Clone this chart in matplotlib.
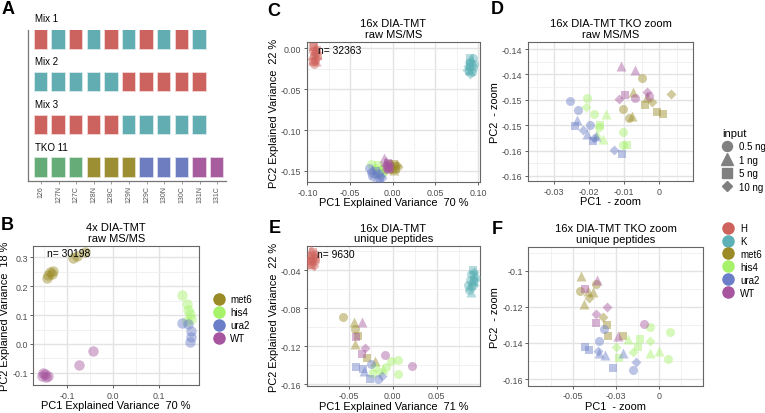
import matplotlib
matplotlib.use('Agg')
import matplotlib.pyplot as plt
from matplotlib.colors import to_rgba
from matplotlib.lines import Line2D
import numpy as np

plt.rcParams['font.family'] = ['Liberation Sans', 'DejaVu Sans']

# groups / colours
group_names = ['H', 'K', 'met6', 'his4', 'ura2', 'WT']
group_colors = ['#CF625C', '#5DB1B6', '#9B8B26', '#A6F26A', '#6B7EC8', '#A6559E']
# input amount -> marker code used in the *_mk strings below
input_names = ['0.5 ng', '1 ng', '5 ng', '10 ng']
input_markers = ['o', '^', 's', 'D']
input_sizes = [42, 52, 36, 26]

# ---- panel A: TMT channel layout
channels = ['126', '127N', '127C', '128N', '128C', '129N', '129C', '130N', '130C', '131N', '131C']
mix_names = ['Mix 1', 'Mix 2', 'Mix 3', 'TKO 11']
mix1 = ['H', 'K', 'H', 'K', 'H', 'K', 'H', 'K', 'H', 'K']
mix2 = ['K', 'K', 'K', 'K', 'K', 'H', 'H', 'H', 'H', 'H']
mix3 = ['H', 'H', 'H', 'H', 'H', 'K', 'K', 'K', 'K', 'K']
tko11 = ['his4', 'his4', 'his4', 'met6', 'met6', 'met6', 'ura2', 'ura2', 'ura2', 'WT', 'WT']
layout_colors = {'H': '#CC635E', 'K': '#62ADB2', 'his4': '#66AC78', 'met6': '#9C8F33',
                 'ura2': '#6D7DC0', 'WT': '#A65C9D'}

# ---- panel B: 4x DIA-TMT raw MS/MS
b_x = [-0.144, -0.141, -0.137, -0.131, -0.133, -0.088, -0.079, -0.061,
       0.149, 0.160, 0.164, 0.167, 0.160, 0.169,
       0.151, 0.169, 0.169, 0.167, 0.164,
       -0.152, -0.146, -0.155, -0.141, -0.148, -0.075, -0.043]
b_y = [0.228, 0.240, 0.248, 0.254, 0.242, 0.298, 0.303, 0.317,
       0.170, 0.138, 0.117, 0.103, 0.078, 0.086,
       0.074, 0.045, 0.024, 0.007, 0.068,
       -0.099, -0.115, -0.111, -0.111, -0.105, -0.074, -0.025]
b_grp = ['met6'] * 8 + ['his4'] * 6 + ['ura2'] * 5 + ['WT'] * 7

# ---- panel C: 16x DIA-TMT raw MS/MS
c_x = [-0.094, -0.092, -0.090, -0.093, -0.091, -0.089, -0.095, -0.092, -0.090, -0.088, -0.094, -0.091, -0.089, -0.093, -0.090, -0.092,
       0.090, 0.092, 0.094, 0.089, 0.091, 0.093, 0.095, 0.088, 0.090, 0.092, 0.094, 0.087, 0.089, 0.091, 0.093, 0.090,
       -0.028, -0.024, -0.020, -0.016, -0.026, -0.022, -0.018, -0.014, -0.024, -0.019, -0.015, -0.012,
       -0.025, -0.021, -0.017, -0.013, -0.010, -0.022, -0.018, -0.014, -0.011, -0.020, -0.016, -0.012,
       -0.010, -0.008, -0.006, -0.004, -0.009, -0.007, -0.005, -0.003, -0.008, -0.006,
       -0.004, -0.001, 0.002, 0.005, -0.003, 0.000, 0.003, 0.006, -0.002, 0.001, 0.004]
c_y = [0.002, 0.001, 0.002, -0.003, -0.004, -0.002, -0.008, -0.009, -0.007, -0.010, -0.013, -0.014, -0.012, -0.017, -0.016, -0.019,
       -0.012, -0.013, -0.012, -0.017, -0.018, -0.016, -0.019, -0.022, -0.023, -0.021, -0.024, -0.026, -0.028, -0.027, -0.029, -0.031,
       -0.146, -0.148, -0.150, -0.152, -0.151, -0.153, -0.154, -0.156, -0.156, -0.157, -0.158, -0.159,
       -0.142, -0.144, -0.143, -0.145, -0.147, -0.148, -0.149, -0.150, -0.151, -0.152, -0.153, -0.154,
       -0.134, -0.138, -0.140, -0.142, -0.143, -0.144, -0.145, -0.146, -0.148, -0.147,
       -0.141, -0.142, -0.141, -0.143, -0.145, -0.146, -0.144, -0.145, -0.148, -0.149, -0.147]
c_grp = ['H'] * 16 + ['K'] * 16 + ['ura2'] * 12 + ['his4'] * 12 + ['WT'] * 10 + ['met6'] * 11
c_mk = 'ss^oDs^oDs^oDs^o' + 's^oDs^oDs^oDs^oD' + 'o^sDo^sDo^sD' + 'o^sDo^sDo^sD' + '^^soDo^sDo' + 'o^sDo^sDo^s'

# ---- panel D: TKO zoom raw MS/MS
d_x = [-0.0109, -0.0070, -0.0098, -0.0070, -0.0114, -0.0036, -0.0031,
       -0.0049, -0.0076, -0.0105, -0.0079, -0.0088, -0.0041, -0.0036, -0.0020, 0.0033, -0.0007, 0.0011,
       -0.0255, -0.0231, -0.0236, -0.0241, -0.0219, -0.0198, -0.0206, -0.0190, -0.0180, -0.0129, -0.0107, -0.0188,
       -0.0206, -0.0209, -0.0187, -0.0153, -0.0170, -0.0173, -0.0177, -0.0162, -0.0103, -0.0103, -0.0093]
d_y = [-0.1383, -0.1392, -0.1440, -0.1447, -0.1449, -0.1434, -0.1442,
       -0.1407, -0.1434, -0.1469, -0.1482, -0.1486, -0.1461, -0.1445, -0.1455, -0.1438, -0.1474, -0.1477,
       -0.1453, -0.1471, -0.1490, -0.1502, -0.1510, -0.1500, -0.1518, -0.1531, -0.1522, -0.1549, -0.1556, -0.1525,
       -0.1447, -0.1465, -0.1477, -0.1478, -0.1500, -0.1503, -0.1518, -0.1528, -0.1513, -0.1539, -0.1539]
d_grp = ['WT'] * 7 + ['met6'] * 11 + ['ura2'] * 12 + ['his4'] * 11
d_mk = '^^soDDo' + 'o^o^os^DDss' + 'oo^sDo^s^DsD' + 'oDo^so^^oos'

# ---- panel E: 16x DIA-TMT unique peptides
e_x = [-0.093, -0.091, -0.089, -0.094, -0.092, -0.090, -0.088, -0.095, -0.093, -0.091, -0.089, -0.094, -0.092, -0.090, -0.092,
       0.091, 0.093, 0.089, 0.091, 0.093, 0.095, 0.088, 0.090, 0.092, 0.094, 0.086, 0.088, 0.090, 0.092, 0.087, 0.089,
       -0.0570, -0.0436, -0.0425, -0.0399, -0.0425, -0.0296, -0.0197,
       -0.0349, -0.0417, -0.0311, -0.0349, -0.0083, 0.0216,
       -0.0417, -0.0342, -0.0265, -0.0171, -0.0121, -0.0322, -0.0246,
       0.0065, -0.0208, -0.0076, 0.0057, -0.0228, -0.0018, -0.0151, -0.0114]
e_y = [-0.018, -0.021, -0.023, -0.024, -0.025, -0.026, -0.027, -0.029, -0.030, -0.031, -0.030, -0.033, -0.034, -0.035, -0.028,
       -0.040, -0.042, -0.044, -0.046, -0.045, -0.047, -0.050, -0.051, -0.052, -0.050, -0.055, -0.056, -0.057, -0.055, -0.061, -0.063,
       -0.0895, -0.0947, -0.1018, -0.1088, -0.1176, -0.1323, -0.1352,
       -0.0947, -0.1105, -0.1218, -0.1281, -0.1288, -0.1407,
       -0.1421, -0.1439, -0.1544, -0.1544, -0.1516, -0.1457, -0.1386,
       -0.1344, -0.1421, -0.1421, -0.1492, -0.1492, -0.1352, -0.1474, -0.1439]
e_grp = ['H'] * 15 + ['K'] * 16 + ['met6'] * 7 + ['WT'] * 6 + ['ura2'] * 7 + ['his4'] * 8
e_mk = '^so^sDo^sDo^sDo' + 'sDo^sDo^sDo^sDo^' + 'o^os^s^' + '^sDsoo' + 'sssoD^o' + 'ooooso' + 'D^'

# ---- panel F: TKO zoom unique peptides
f_x = [-0.0454, -0.0458, -0.0410, -0.0381, -0.0404, -0.0435, -0.0365, -0.0327, -0.0304, -0.0294, -0.0208,
       -0.0362, -0.0429, -0.0304, -0.0365, -0.0365, -0.0087, -0.0237,
       -0.0317, -0.0346, -0.0429, -0.0404, -0.0356, -0.0346, -0.0313, -0.0208, -0.0265, -0.0154, -0.0135,
       -0.0054, 0.0062, -0.0112, -0.0054, -0.0179, -0.0250, -0.0121, -0.0150, -0.0054, -0.0002, -0.0233, 0.0052]
f_y = [-0.1028, -0.1114, -0.1114, -0.1120, -0.1153, -0.1185, -0.1074, -0.1259, -0.1301, -0.1360, -0.1364,
       -0.1052, -0.1102, -0.1203, -0.1240, -0.1290, -0.1295, -0.1364,
       -0.1323, -0.1392, -0.1425, -0.1440, -0.1443, -0.1456, -0.1465, -0.1456, -0.1539, -0.1548, -0.1508,
       -0.1314, -0.1342, -0.1379, -0.1392, -0.1379, -0.1425, -0.1421, -0.1449, -0.1458, -0.1443, -0.1484, -0.1489]
f_grp = ['met6'] * 11 + ['WT'] * 7 + ['ura2'] * 11 + ['his4'] * 12
f_mk = '^o^^D^oDsss' + '^sDDso^' + 'oossD^^^soD' + 'oosD^DsD^^so'


W, H = 765, 414
fig = plt.figure(figsize=(W / 100, H / 100), dpi=100)


def add_ax(x0, y0, x1, y1):
    # pixel box (top-left origin) -> figure fraction
    return fig.add_axes([x0 / W, 1 - y1 / H, (x1 - x0) / W, (y1 - y0) / H])


def style_pca(ax, xt, xtl, yt, ytl, xlim, ylim):
    ax.set_xticks(xt)
    ax.set_xticklabels(xtl)
    ax.set_yticks(yt)
    ax.set_yticklabels(ytl)
    dx = xt[1] - xt[0]
    dy = yt[1] - yt[0]
    ax.set_xticks(np.arange(xt[0] - dx / 2, xt[-1] + dx, dx), minor=True)
    ax.set_yticks(np.arange(yt[0] - dy / 2, yt[-1] + dy, dy), minor=True)
    # limits last: set_ticks would widen the view otherwise
    ax.set_xlim(xlim)
    ax.set_ylim(ylim)
    ax.grid(which='major', color='#E3E3E3', lw=1.0)
    ax.grid(which='minor', color='#EFEFEF', lw=0.6)
    ax.set_axisbelow(True)
    ax.tick_params(which='major', length=2.5, width=0.6, color='#444444',
                   labelsize=6.4, labelcolor='#4D4D4D', pad=1.5)
    ax.tick_params(which='minor', length=0)
    for s in ax.spines.values():
        s.set_color('#666666')
        s.set_linewidth(0.8)


def scatter_groups(ax, xs, ys, grps, mks, size_scale=1.0):
    xs = np.asarray(xs)
    ys = np.asarray(ys)
    grps = np.asarray(grps)
    mks = np.array(list(mks))
    for g, col in zip(group_names, group_colors):
        for m, s in zip(input_markers, input_sizes):
            sel = (grps == g) & (mks == m)
            if sel.any():
                ax.scatter(xs[sel], ys[sel], s=s * size_scale, marker=m, color=col,
                           alpha=0.45, linewidths=0, zorder=3)


def panel_letter(x, y, s):
    fig.text(x / W, 1 - y / H, s, fontsize=13, fontweight='bold', ha='center', va='center')


lab_fs = 7.9
title_fs = 8.0

# ---------------- A
axA = add_ax(28, 31, 226, 182)
rows = [mix1, mix2, mix3, tko11]
for i, row in enumerate(rows):
    ypos = 3 - i
    cols = [layout_colors[k] for k in row]
    axA.bar(np.arange(len(row)), 0.43, bottom=ypos - 0.215, width=0.70, color=cols,
            edgecolor=[to_rgba(c, 0.35) for c in cols], linewidth=1.2)
    axA.text(-0.35, ypos + 0.49, mix_names[i], fontsize=7, ha='left', va='center')
axA.set_xticks(np.arange(len(channels)))
axA.set_xticklabels(channels, rotation=90, fontsize=5.0, color='#555555')
axA.set_yticks([])
axA.set_xlim(-0.73, 10.5)
axA.set_ylim(-0.315, 3.22)
axA.tick_params(axis='x', length=2, width=0.5, color='#777777', pad=1)
for s in ['top', 'right']:
    axA.spines[s].set_visible(False)
for s in ['left', 'bottom']:
    axA.spines[s].set_color('#777777')
    axA.spines[s].set_linewidth(0.9)
panel_letter(8, 10, 'A')

# ---------------- B
axB = add_ax(33.3, 247, 199, 386)
scatter_groups(axB, b_x, b_y, b_grp, 'o' * len(b_x), size_scale=1.35)
style_pca(axB, [-0.1, 0.0, 0.1], ['-0.1', '0.0', '0.1'],
          [-0.1, 0.0, 0.1, 0.2, 0.3], ['-0.1', '0.0', '0.1', '0.2', '0.3'],
          (-0.1733, 0.187), (-0.142, 0.339))
axB.set_title('4x DIA-TMT\nraw MS/MS', fontsize=title_fs, pad=3.5, linespacing=1.1)
axB.set_xlabel('PC1 Explained Variance  70 %', fontsize=lab_fs, labelpad=0.5)
axB.set_ylabel('PC2 Explained Variance  18 %', fontsize=lab_fs, labelpad=1.5)
axB.text(0.081, 0.947, 'n= 30198', transform=axB.transAxes, fontsize=7.4, ha='left', va='center')
panel_letter(7, 226, 'B')

# ---------------- C
axC = add_ax(307, 43, 480, 183)
scatter_groups(axC, c_x, c_y, c_grp, c_mk)
style_pca(axC, [-0.10, -0.05, 0.0, 0.05, 0.10], ['-0.10', '-0.05', '0.00', '0.05', '0.10'],
          [-0.15, -0.10, -0.05, 0.0], ['-0.15', '-0.10', '-0.05', '0.00'],
          (-0.1005, 0.1023), (-0.1635, 0.0077))
axC.set_title('16x DIA-TMT\nraw MS/MS', fontsize=title_fs, pad=3.5, linespacing=1.1)
axC.set_xlabel('PC1 Explained Variance  70 %', fontsize=lab_fs, labelpad=0.5)
axC.set_ylabel('PC2 Explained Variance  22 %', fontsize=lab_fs, labelpad=1.5)
axC.text(0.065, 0.945, 'n= 32363', transform=axC.transAxes, fontsize=7.4, ha='left', va='center')
panel_letter(274, 11, 'C')

# ---------------- D
axD = add_ax(528, 43, 693, 182)
scatter_groups(axD, d_x, d_y, d_grp, d_mk)
style_pca(axD, [-0.03, -0.02, -0.01, 0.0, 0.01], ['-0.03', '-0.02', '-0.01', '0', '0.01'],
          [-0.160, -0.155, -0.150, -0.145, -0.140, -0.135],
          ['-0.16', '-0.16', '-0.15', '-0.15', '-0.14', '-0.14'],
          (-0.0375, 0.0096), (-0.161, -0.1336))
axD.set_title('16x DIA-TMT TKO zoom\nraw MS/MS', fontsize=title_fs, pad=3.5, linespacing=1.1)
axD.set_xlabel('PC1  - zoom', fontsize=lab_fs, labelpad=0.5)
axD.set_ylabel('PC2  - zoom', fontsize=lab_fs, labelpad=1.5)
panel_letter(497, 10, 'D')

# ---------------- E
axE = add_ax(306.7, 247.3, 480, 386.7)
scatter_groups(axE, e_x, e_y, e_grp, e_mk)
style_pca(axE, [-0.10, -0.05, 0.0, 0.05], ['-0.10', '-0.05', '0.00', '0.05'],
          [-0.16, -0.12, -0.08, -0.04], ['-0.16', '-0.12', '-0.08', '-0.04'],
          (-0.098, 0.0993), (-0.1615, -0.0147))
axE.set_title('16x DIA-TMT\nunique peptides', fontsize=title_fs, pad=3.5, linespacing=1.1)
axE.set_xlabel('PC1 Explained Variance  71 %', fontsize=lab_fs, labelpad=0.5)
axE.set_ylabel('PC2 Explained Variance  22 %', fontsize=lab_fs, labelpad=1.5)
axE.text(0.058, 0.945, 'n= 9630', transform=axE.transAxes, fontsize=7.4, ha='left', va='center')
panel_letter(275, 229, 'E')

# ---------------- F
axF = add_ax(528.3, 247.7, 702.7, 386.7)
scatter_groups(axF, f_x, f_y, f_grp, f_mk)
style_pca(axF, [-0.05, -0.025, 0.0], ['-0.05', '-0.03', '0'],
          [-0.16, -0.14, -0.12, -0.10], ['-0.16', '-0.14', '-0.12', '-0.1'],
          (-0.0756, 0.025), (-0.1637, -0.0867))
axF.set_title('16x DIA-TMT TKO zoom\nunique peptides', fontsize=title_fs, pad=3.5, linespacing=1.1)
axF.set_xlabel('PC1  - zoom', fontsize=lab_fs, labelpad=0.5)
axF.set_ylabel('PC2  - zoom', fontsize=lab_fs, labelpad=1.5)
panel_letter(497, 230, 'F')

# ---------------- legends
leg_fs = 7.0
b_groups = ['met6', 'his4', 'ura2', 'WT']
hB = [Line2D([], [], ls='', marker='o', markersize=8,
             color=group_colors[group_names.index(g)]) for g in b_groups]
fig.legend(hB, b_groups, loc='upper left', bbox_to_anchor=(214.5 / W, 1 - 295.5 / H),
           frameon=False, fontsize=leg_fs, handlelength=1.0, handletextpad=0.6,
           labelspacing=0.3, borderpad=0, borderaxespad=0)

hF = [Line2D([], [], ls='', marker='o', markersize=8, color=c) for c in group_colors]
fig.legend(hF, group_names, loc='upper left', bbox_to_anchor=(723 / W, 1 - 224 / H),
           frameon=False, fontsize=leg_fs, handlelength=1.0, handletextpad=0.75,
           labelspacing=0.3, borderpad=0, borderaxespad=0)

legend_msize = [7.2, 8.2, 6.8, 5.6]
hI = [Line2D([], [], ls='', marker=m, markersize=ms, color='#808080')
      for m, ms in zip(input_markers, legend_msize)]
fig.legend(hI, input_names, loc='upper left', bbox_to_anchor=(722 / W, 1 - 129 / H),
           frameon=False, fontsize=leg_fs, handlelength=1.0, handletextpad=0.75,
           labelspacing=0.35, borderpad=0, borderaxespad=0, title='input',
           title_fontsize=8, alignment='left')

fig.savefig('out.png', dpi=100)
